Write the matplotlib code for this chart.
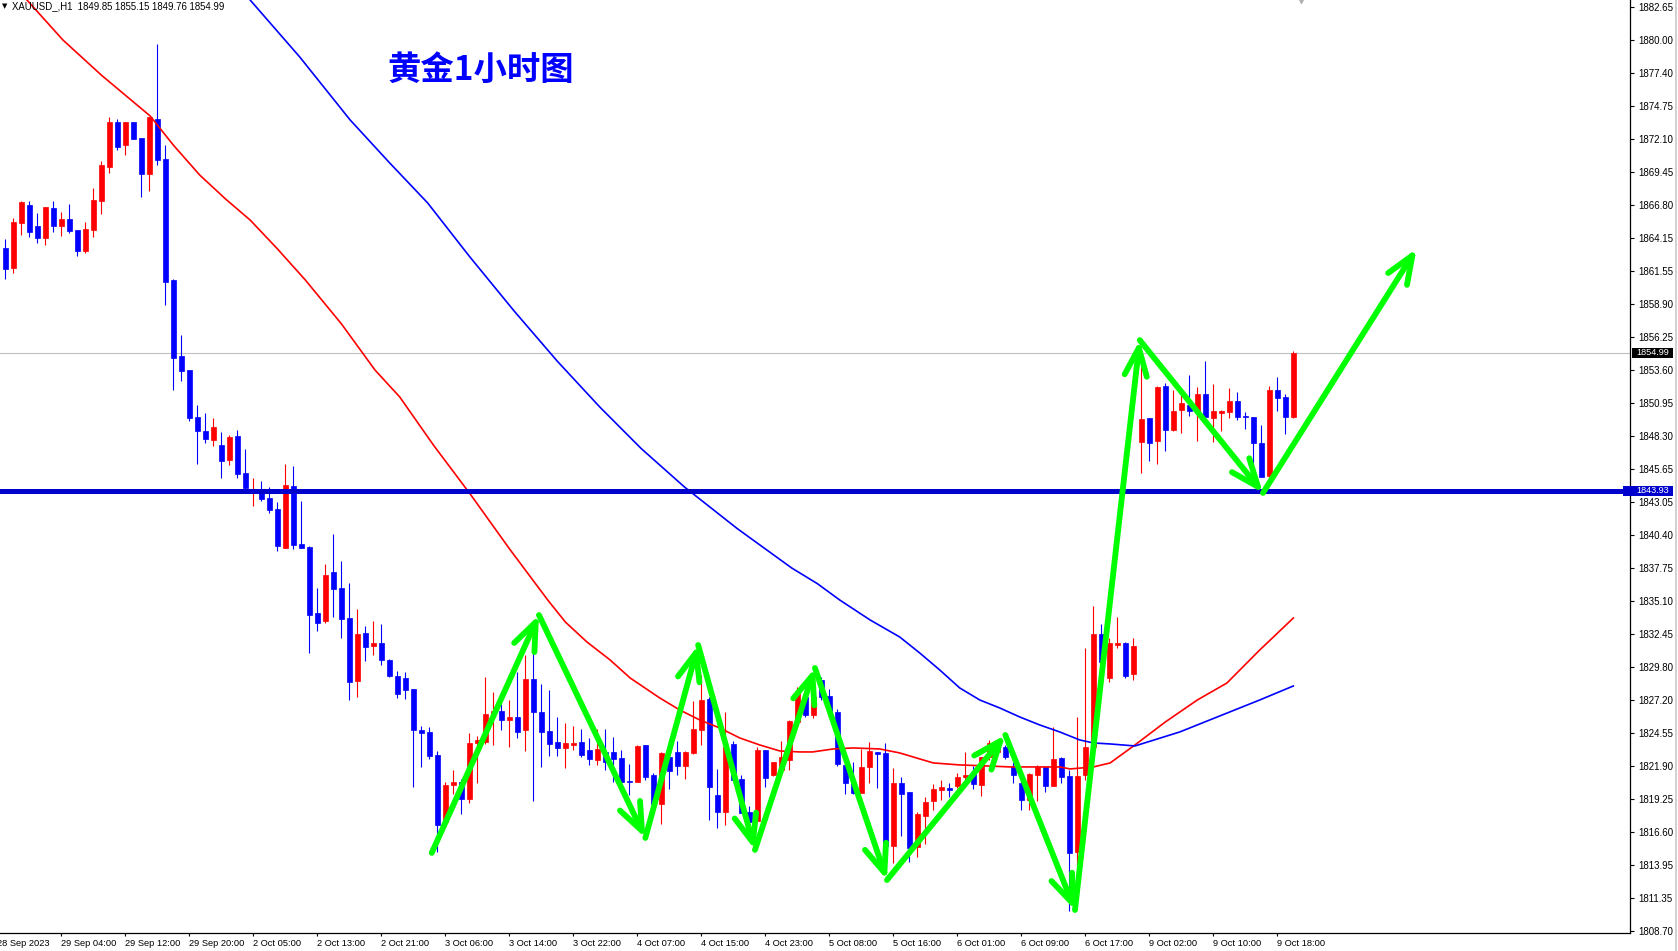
"""
XAUUSD H1 candlestick chart (MT4 style) with two moving averages,
a support line and hand drawn green zigzag arrows.
"""

import numpy as np
import matplotlib
matplotlib.use("Agg")
import matplotlib.pyplot as plt
from matplotlib.transforms import blended_transform_factory
from matplotlib.patches import Rectangle

plt.rcParams['font.family'] = ['Liberation Sans', 'DejaVu Sans']

# ---------------- data ----------------
opens = [
    1863.36, 1861.79, 1865.39, 1866.80, 1865.12, 1864.19, 1866.56, 1865.15, 1865.68, 1864.80,
    1863.15, 1864.83, 1867.15, 1869.87, 1873.45, 1871.63, 1873.45, 1872.17, 1869.31, 1873.69,
    1870.49, 1860.80, 1854.72, 1853.60, 1849.83, 1848.71, 1848.02, 1847.59, 1846.42, 1848.31,
    1845.35, 1843.75, 1843.99, 1843.35, 1842.47, 1839.38, 1844.31, 1839.70, 1839.46, 1834.17,
    1833.53, 1837.46, 1836.17, 1833.77, 1828.73, 1832.57, 1831.53, 1831.77, 1830.41, 1829.11,
    1828.95, 1828.07, 1824.78, 1824.62, 1822.78, 1817.45, 1820.38, 1820.62, 1819.26, 1823.74,
    1823.82, 1826.07, 1826.31, 1825.59, 1825.83, 1824.78, 1828.87, 1826.23, 1824.70, 1823.82,
    1823.37, 1823.58, 1823.82, 1823.18, 1822.41, 1823.00, 1823.02, 1822.54, 1820.70, 1820.65,
    1823.58, 1821.18, 1818.89, 1822.60, 1823.02, 1821.93, 1822.97, 1824.81, 1827.27, 1819.58,
    1818.25, 1823.66, 1820.86, 1818.22, 1817.53, 1823.18, 1821.21, 1821.60, 1822.41, 1825.45,
    1827.45, 1825.99, 1828.79, 1827.50, 1826.23, 1822.01, 1820.65, 1819.77, 1821.85, 1823.02,
    1822.94, 1815.53, 1820.57, 1819.82, 1815.45, 1817.93, 1819.13, 1820.01, 1820.17, 1820.33,
    1821.05, 1821.45, 1820.41, 1822.60, 1823.00, 1823.45, 1821.93, 1820.54, 1819.18, 1821.21,
    1821.85, 1820.33, 1822.54, 1821.13, 1814.99, 1821.21, 1823.40, 1832.47, 1828.97, 1831.61,
    1831.77, 1829.29, 1847.86, 1849.76, 1847.94, 1852.32, 1848.82, 1850.40, 1850.80, 1850.26,
    1851.68, 1849.78, 1850.18, 1850.26, 1851.12, 1849.92, 1849.84, 1847.76, 1845.14, 1852.00,
    1851.44, 1849.85]
highs = [
    1864.08, 1865.74, 1867.12, 1867.12, 1866.16, 1866.64, 1867.12, 1866.24, 1866.88, 1864.80,
    1865.44, 1868.16, 1870.33, 1873.85, 1873.69, 1873.45, 1873.45, 1872.17, 1873.85, 1879.69,
    1871.63, 1860.88, 1856.40, 1853.60, 1850.80, 1850.15, 1849.75, 1848.63, 1848.39, 1848.79,
    1847.27, 1844.95, 1844.71, 1844.23, 1843.03, 1846.10, 1845.91, 1843.14, 1839.54, 1836.17,
    1838.10, 1840.50, 1838.34, 1836.57, 1834.49, 1833.13, 1833.53, 1833.29, 1830.49, 1829.51,
    1829.43, 1828.07, 1825.10, 1825.02, 1823.10, 1820.62, 1821.58, 1820.86, 1824.54, 1824.30,
    1829.03, 1827.83, 1826.87, 1827.19, 1829.43, 1830.79, 1832.00, 1828.47, 1827.99, 1825.83,
    1825.34, 1825.10, 1824.86, 1824.14, 1824.86, 1824.86, 1824.22, 1823.18, 1822.06, 1823.58,
    1823.58, 1821.34, 1823.02, 1823.98, 1823.90, 1823.10, 1827.11, 1829.19, 1827.45, 1821.66,
    1826.23, 1823.90, 1821.18, 1818.70, 1823.45, 1823.18, 1822.22, 1823.90, 1825.59, 1828.25,
    1828.25, 1829.05, 1829.05, 1828.07, 1826.47, 1822.01, 1822.25, 1823.26, 1823.82, 1823.02,
    1823.74, 1821.77, 1821.05, 1819.82, 1818.25, 1819.45, 1820.49, 1820.78, 1820.57, 1821.37,
    1823.02, 1821.93, 1822.65, 1823.98, 1824.00, 1823.58, 1822.25, 1820.78, 1821.37, 1822.01,
    1821.85, 1825.05, 1822.62, 1821.58, 1825.83, 1831.32, 1834.75, 1833.27, 1832.12, 1833.86,
    1831.85, 1832.17, 1854.00, 1849.76, 1852.32, 1852.56, 1852.00, 1851.60, 1853.20, 1852.24,
    1854.32, 1852.48, 1850.40, 1852.16, 1851.84, 1850.26, 1849.84, 1849.20, 1852.32, 1853.04,
    1851.68, 1855.15]
lows = [
    1860.85, 1861.39, 1864.40, 1864.27, 1863.79, 1863.63, 1864.67, 1864.35, 1864.59, 1862.75,
    1862.99, 1864.27, 1866.11, 1869.39, 1871.23, 1870.83, 1872.11, 1867.47, 1867.95, 1870.03,
    1858.80, 1852.02, 1852.72, 1849.54, 1846.10, 1847.78, 1847.54, 1844.98, 1846.02, 1844.98,
    1843.99, 1842.74, 1843.14, 1842.18, 1839.14, 1839.38, 1839.30, 1839.38, 1830.97, 1832.73,
    1833.37, 1833.85, 1832.17, 1827.18, 1827.40, 1830.33, 1830.81, 1830.01, 1829.05, 1827.35,
    1827.27, 1820.22, 1821.82, 1822.46, 1815.05, 1817.05, 1819.66, 1818.09, 1818.97, 1820.57,
    1823.70, 1823.58, 1824.78, 1823.45, 1824.17, 1823.13, 1819.13, 1821.85, 1822.73, 1822.73,
    1821.77, 1823.21, 1822.65, 1822.01, 1822.01, 1821.60, 1820.65, 1820.25, 1819.58, 1820.65,
    1820.78, 1818.38, 1817.29, 1820.09, 1821.21, 1820.89, 1822.86, 1823.61, 1817.61, 1816.97,
    1817.21, 1820.78, 1818.17, 1817.45, 1817.45, 1820.25, 1821.13, 1821.20, 1821.61, 1825.32,
    1825.85, 1825.72, 1827.21, 1826.00, 1821.93, 1819.69, 1819.64, 1819.77, 1820.57, 1820.17,
    1814.11, 1814.11, 1816.33, 1814.25, 1814.65, 1815.69, 1818.41, 1819.21, 1819.45, 1820.12,
    1820.78, 1820.09, 1819.53, 1822.40, 1822.80, 1822.44, 1820.57, 1818.41, 1818.41, 1819.13,
    1819.85, 1820.33, 1820.57, 1810.32, 1813.85, 1820.78, 1823.00, 1829.85, 1828.65, 1831.32,
    1828.97, 1828.81, 1845.38, 1846.34, 1846.10, 1847.14, 1848.74, 1848.58, 1849.94, 1847.94,
    1849.60, 1847.86, 1848.74, 1849.78, 1849.62, 1848.90, 1845.86, 1845.06, 1845.06, 1850.34,
    1848.50, 1849.76]
closes = [
    1861.71, 1865.44, 1867.02, 1864.67, 1864.19, 1866.64, 1865.15, 1865.68, 1864.72, 1863.15,
    1864.88, 1867.20, 1870.01, 1873.45, 1871.47, 1873.45, 1872.11, 1869.31, 1873.85, 1870.43,
    1860.67, 1854.58, 1853.54, 1849.78, 1848.74, 1848.07, 1849.03, 1846.34, 1848.23, 1845.30,
    1844.15, 1843.95, 1843.30, 1842.42, 1839.54, 1844.39, 1839.62, 1839.38, 1834.01, 1833.37,
    1837.22, 1836.09, 1833.69, 1828.65, 1832.49, 1831.45, 1831.77, 1830.41, 1829.13, 1827.67,
    1827.99, 1824.78, 1824.57, 1822.70, 1817.21, 1820.38, 1820.62, 1819.26, 1823.74, 1823.98,
    1826.07, 1826.31, 1825.59, 1825.83, 1824.62, 1828.87, 1826.23, 1824.65, 1823.69, 1823.37,
    1823.74, 1823.74, 1822.81, 1822.49, 1823.26, 1822.20, 1822.49, 1820.65, 1820.65, 1823.50,
    1821.02, 1818.89, 1822.94, 1821.50, 1821.93, 1823.02, 1824.86, 1827.19, 1820.25, 1818.25,
    1823.45, 1820.78, 1818.17, 1817.45, 1823.18, 1820.97, 1822.22, 1822.60, 1825.51, 1827.83,
    1825.99, 1827.40, 1827.45, 1826.30, 1822.09, 1820.57, 1819.72, 1821.82, 1823.10, 1822.89,
    1815.53, 1820.57, 1819.69, 1815.31, 1818.09, 1819.05, 1820.09, 1820.25, 1820.01, 1821.05,
    1821.21, 1820.49, 1822.65, 1823.72, 1823.60, 1822.60, 1821.21, 1819.21, 1821.26, 1821.85,
    1820.33, 1822.46, 1821.05, 1814.97, 1821.13, 1823.45, 1832.48, 1830.26, 1831.77, 1831.77,
    1829.13, 1831.53, 1849.68, 1847.78, 1852.24, 1848.82, 1850.32, 1850.96, 1850.34, 1851.68,
    1849.86, 1850.32, 1850.32, 1851.12, 1849.86, 1849.86, 1847.78, 1845.06, 1852.00, 1851.38,
    1849.86, 1854.99]

# moving averages (sampled along the drawn curves, x = bar index)
ma_red_bar = [0, 2.7, 7.2, 12.0, 18.1, 21.0, 24.3, 27.5, 30.6, 34.0, 37.5, 42.0, 46.2, 49.3,
              53.5, 58.2, 63.0, 67.8, 70.0, 72.7, 75.6, 78.1, 81.8, 84.3, 86.8, 89.3, 91.8,
              94.3, 96.8, 99.3, 100.9, 103.5, 106.0, 109.3, 111.8, 114.3, 116.0, 119.3, 122.7,
              125.6, 129.3, 131.8, 133.1, 136.0, 138.1, 141.2, 145.0, 149.0, 152.7, 156.8,
              161.0]
ma_red_val = [1885.13, 1883.21, 1880.01, 1877.20, 1873.93, 1871.60, 1869.20, 1867.30, 1865.60,
              1863.30, 1860.80, 1857.30, 1853.60, 1851.44, 1847.60, 1843.59, 1839.30, 1835.19,
              1833.43, 1831.83, 1830.39, 1828.95, 1827.35, 1826.39, 1825.59, 1824.95, 1824.15,
              1823.59, 1823.11, 1823.03, 1823.03, 1823.27, 1823.35, 1823.27, 1822.95, 1822.47,
              1822.15, 1821.99, 1821.91, 1821.83, 1821.83, 1821.83, 1821.67, 1821.83, 1822.15,
              1823.59, 1825.43, 1827.19, 1828.55, 1831.19, 1833.75]
ma_blue_bar = [25.0, 30.6, 36.8, 43.1, 48.0, 52.8, 58.0, 63.6, 69.0, 74.3, 79.5, 84.9, 91.5,
               98.3, 101.5, 104.3, 108.1, 111.8, 114.3, 116.8, 119.3, 121.8, 124.3, 126.8,
               129.3, 131.8, 134.3, 136.0, 138.1, 141.2, 146.8, 151.8, 156.8, 161.0]
ma_blue_val = [1887.53, 1883.21, 1878.65, 1873.61, 1870.20, 1866.96, 1862.70, 1858.32,
               1854.30, 1850.64, 1847.30, 1844.23, 1840.90, 1837.75, 1836.50, 1835.19, 1833.59,
               1832.23, 1830.95, 1829.59, 1828.15, 1827.19, 1826.55, 1825.83, 1825.19, 1824.63,
               1823.99, 1823.75, 1823.67, 1823.51, 1824.63, 1825.91, 1827.19, 1828.31]

price_ticks = [1882.65, 1880.00, 1877.40, 1874.75, 1872.10, 1869.45, 1866.80, 1864.15, 1861.55,
               1858.90, 1856.25, 1853.60, 1850.95, 1848.30, 1845.65, 1843.05, 1840.40, 1837.75,
               1835.10, 1832.45, 1829.80, 1827.20, 1824.55, 1821.90, 1819.25, 1816.60, 1813.95,
               1811.35, 1808.70]

time_labels = ["28 Sep 2023", "29 Sep 04:00", "29 Sep 12:00", "29 Sep 20:00", "2 Oct 05:00",
               "2 Oct 13:00", "2 Oct 21:00", "3 Oct 06:00", "3 Oct 14:00", "3 Oct 22:00",
               "4 Oct 07:00", "4 Oct 15:00", "4 Oct 23:00", "5 Oct 08:00", "5 Oct 16:00",
               "6 Oct 01:00", "6 Oct 09:00", "6 Oct 17:00", "9 Oct 02:00", "9 Oct 10:00",
               "9 Oct 18:00"]
time_label_bars = list(range(-1, 160, 8))

support_level = 1843.93
last_price = 1854.99
shift_marker_bar = 162
header = "XAUUSD_,H1  1849.85 1855.15 1849.76 1854.99"
title = "黄金1小时图"

# green zigzag arrows (bar index, price) of each turning point
zig_bar = [53.3, 66.7, 80.0, 86.6, 93.7, 101.2, 110.2, 125.0, 133.7, 141.8, 157.2, 176.4]
zig_price = [1814.95, 1833.99, 1816.15, 1831.59, 1815.19, 1829.75, 1812.78, 1824.39, 1810.38,
             1855.99, 1843.76, 1863.30]

# ---------------- figure ----------------
W, H = 1678, 951
fig = plt.figure(figsize=(W / 100, H / 100), dpi=100)
fig.patch.set_facecolor("white")
ax = fig.add_axes([0, 18 / H, 1630 / W, 933 / H])
ax.set_xlim(-0.666, 203.08)
ax.set_ylim(1808.54, 1883.21)

o = np.array(opens)
h = np.array(highs)
l = np.array(lows)
c = np.array(closes)
x = np.arange(len(o))
colors = np.where(c > o, "#ff0000", "#0000ff")

# candles
ax.vlines(x, l, h, colors=colors, linewidth=0.8, zorder=2)
ax.bar(x, np.maximum(np.abs(c - o), 0.03), bottom=np.minimum(o, c), width=0.55,
       color=colors, edgecolor=colors, linewidth=0.5, zorder=3)

# moving averages
ax.plot(ma_red_bar, ma_red_val, color="#ff0000", lw=1.2, zorder=4)
ax.plot(ma_blue_bar, ma_blue_val, color="#0000ff", lw=1.2, zorder=4)

# last price line and support line
ax.axhline(last_price, color="#c0c0c0", lw=0.8, zorder=1)
ax.axhline(support_level, color="#0000cd", lw=3.6, zorder=5)

# zigzag arrows
for i in range(len(zig_bar) - 1):
    ax.annotate("", xy=(zig_bar[i + 1], zig_price[i + 1]),
                xytext=(zig_bar[i], zig_price[i]),
                arrowprops=dict(arrowstyle="->,head_length=1.0,head_width=0.4",
                                color="#00ff00", lw=4.2, shrinkA=0, shrinkB=0,
                                mutation_scale=20, capstyle="round",
                                joinstyle="round"),
                zorder=6, annotation_clip=False)

# chart shift marker at the top
ax.plot([shift_marker_bar], [1], marker="v", markersize=4, color="#b0b0b0",
        transform=blended_transform_factory(ax.transData, ax.transAxes), clip_on=False)

# axes frame
for side in ("top", "left"):
    ax.spines[side].set_visible(False)
for side in ("right", "bottom"):
    ax.spines[side].set_linewidth(0.9)
    ax.spines[side].set_color("black")

# price scale
ax.yaxis.tick_right()
ax.set_yticks(price_ticks)
ax.set_yticklabels(["%.2f" % p for p in price_ticks])
ax.tick_params(axis="y", length=3, width=0.8, pad=3, labelsize=7)

# time scale
ax.set_xticks(time_label_bars[1:])
ax.set_xticklabels(time_labels[1:])
for lab in ax.get_xticklabels():
    lab.set_horizontalalignment("left")
ax.tick_params(axis="x", length=2.5, width=0.8, pad=1.5, labelsize=6.7)
ax.annotate(time_labels[0], xy=(time_label_bars[0], 0), xycoords=("data", "axes fraction"),
            xytext=(0, -4), textcoords="offset points", ha="left", va="top",
            fontsize=6.7, annotation_clip=False)

# price boxes on the scale
trans = blended_transform_factory(ax.transAxes, ax.transData)
ax.add_patch(Rectangle((1632 / 1630, last_price - 0.4), 41 / 1630, 0.8, transform=trans,
                       facecolor="black", edgecolor="none", clip_on=False, zorder=7))
ax.text(1652.5 / 1630, last_price, "%.2f" % last_price, transform=trans, color="white",
        fontsize=6.6, ha="center", va="center", clip_on=False, zorder=8)
ax.add_patch(Rectangle((1623 / 1630, support_level - 0.4), 50 / 1630, 0.8, transform=trans,
                       facecolor="#0000cd", edgecolor="none", clip_on=False, zorder=7))
ax.text(1653 / 1630, support_level, "%.2f" % support_level, transform=trans, color="white",
        fontsize=6.6, ha="center", va="center", clip_on=False, zorder=8)

# header line and title
fig.text(2 / W, 1 - 6 / H, "\u25bc", fontsize=5, va="center", ha="left",
         family=["DejaVu Sans"])
fig.text(12 / W, 1 - 6.5 / H, header, fontsize=6.9, va="center", ha="left")
fig.text(481 / W, 1 - 70 / H, title, fontsize=24, fontweight="bold", color="#0000ff",
         ha="center", va="center", family=["Noto Sans CJK SC", "DejaVu Sans"])

# window border on the far right
fig.add_artist(plt.Line2D([1676 / W, 1676 / W], [0, 1], color="#c8c8c8", lw=1.2))

fig.savefig("out.png", dpi=100, facecolor="white")
